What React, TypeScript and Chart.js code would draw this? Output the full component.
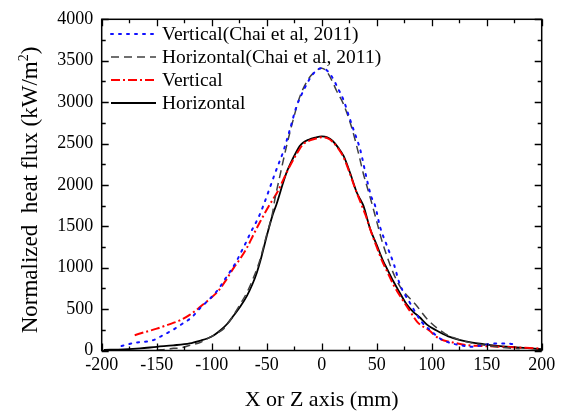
import React, { useEffect, useRef } from "react";
import { Chart, registerables } from "chart.js";

Chart.register(...registerables);

// ---- Data ----
const xTicks = [-200, -150, -100, -50, 0, 50, 100, 150, 200];
const yTicks = [0, 500, 1000, 1500, 2000, 2500, 3000, 3500, 4000];

const legendLabels = [
  "Vertical(Chai et al, 2011)",
  "Horizontal(Chai et al, 2011)",
  "Vertical",
  "Horizontal",
];

const xTitle = "X or Z axis (mm)";
const yTitleMain = "Normalized  heat flux (kW/m";
const yTitleSup = "2";
const yTitleEnd = ")";

// Vertical (Chai et al, 2011) - blue dotted
const vChaiX = [-182, -170, -153, -145, -136, -127, -118, -110, -102, -94, -88, -82, -77, -73, -69, -65, -60, -56, -53, -47, -43, -39, -35, -29, -23, -18, -15, -10, -5, 0, 5, 10, 15, 20, 25, 29, 35, 41, 45, 48.5, 53, 59, 65.7, 71, 80, 91, 100, 107.5, 117, 126, 135, 145, 153, 159, 168, 178];
const vChaiY = [55, 93, 125, 180, 244, 320, 402, 520, 620, 740, 860, 978, 1090, 1196, 1300, 1414, 1540, 1652, 1752, 1970, 2120, 2260, 2400, 2664, 2943, 3100, 3181, 3300, 3380, 3410, 3380, 3290, 3160, 3020, 2820, 2664, 2426, 2069, 1860, 1752, 1494, 1276, 1038, 800, 581, 343, 230, 145, 90, 65, 45, 60, 80, 86, 86, 65];

// Horizontal (Chai et al, 2011) - gray dashed
const hChaiX = [-150, -140, -135, -129, -119, -110, -101, -95, -89, -84, -80, -74, -68, -62, -56, -50, -45, -42.5, -38, -32, -26, -20, -12, -6, 0, 4.5, 10, 13.4, 19.6, 27, 33.4, 38, 41, 45.5, 50, 54.5, 62, 68, 74, 85, 97, 112, 125, 138, 150, 159, 170, 180];
const hChaiY = [5, 15, 26, 30, 65, 100, 164, 210, 264, 350, 430, 560, 700, 880, 1100, 1400, 1640, 1831, 2109, 2466, 2783, 3062, 3280, 3370, 3410, 3370, 3240, 3140, 2982, 2705, 2385, 2129, 1990, 1780, 1560, 1336, 1040, 850, 720, 562, 363, 205, 130, 86, 60, 45, 30, 20];

// Vertical (simulation) - red dash-dot
const vSimX = [-170, -160, -150, -140, -129, -120, -111, -102, -94, -87, -80, -74, -68, -62, -56, -50, -47, -40, -35, -30, -23, -17, -10, -5, 0, 5, 10, 15, 20, 25, 30, 35, 40, 45, 50, 55, 60, 65, 74, 80, 87, 97.5, 106.7, 120, 132, 145, 162, 180, 195, 200];
const vSimY = [185, 225, 264, 310, 363, 430, 521, 620, 720, 850, 998, 1110, 1240, 1400, 1554, 1700, 1770, 1920, 2060, 2200, 2370, 2490, 2540, 2560, 2575, 2565, 2520, 2440, 2330, 2160, 1970, 1800, 1630, 1430, 1250, 1080, 940, 800, 601, 480, 343, 244, 145, 95, 65, 55, 45, 35, 26, 20];

// Horizontal (simulation) - black solid
const hSimX = [-198, -180, -165, -150, -135, -120, -110, -104, -98, -92, -86, -80, -74, -68, -63, -59, -55, -50, -45, -41, -35, -32, -28, -23, -20, -17, -12, -6, 0, 5, 10, 15, 20, 25.7, 31.8, 34.8, 37.8, 43.9, 50, 56, 59, 65, 70, 77, 83, 89, 96, 104, 115, 126, 137, 147, 160, 177, 190, 200];
const hSimY = [8, 14, 25, 45, 62, 86, 120, 145, 185, 244, 320, 422, 530, 660, 800, 940, 1120, 1380, 1620, 1770, 2030, 2149, 2270, 2400, 2470, 2510, 2545, 2570, 2585, 2575, 2530, 2450, 2347, 2149, 1911, 1831, 1752, 1474, 1276, 1077, 998, 839, 720, 562, 470, 402, 310, 244, 170, 125, 95, 77, 55, 38, 25, 15];

const SERIF = "'Liberation Serif', 'Times New Roman', serif";

const toPts = (xs: number[], ys: number[]) => xs.map((x, i) => ({ x, y: ys[i] }));

const seriesStyles = [
  { color: "#1010ff", dash: [2, 6], width: 2, cap: "round" as CanvasLineCap },
  { color: "#404040", dash: [8, 5], width: 1.5, cap: "butt" as CanvasLineCap },
  { color: "#ff0000", dash: [9, 3, 2, 3], width: 2, cap: "butt" as CanvasLineCap },
  { color: "#000000", dash: [], width: 1.8, cap: "butt" as CanvasLineCap },
];

const framePlugin = {
  id: "frameTicks",
  afterDraw(chart: any) {
    const { ctx, chartArea, scales } = chart;
    const { left, right, top, bottom } = chartArea;
    const xs = scales.x;
    const ys = scales.y;
    ctx.save();
    ctx.strokeStyle = "#000";
    ctx.lineWidth = 1.5;
    ctx.setLineDash([]);
    ctx.strokeRect(left, top, right - left, bottom - top);
    ctx.lineWidth = 1.3;
    for (let v = -200; v <= 200; v += 25) {
      const px = Math.round(xs.getPixelForValue(v)) + 0.5;
      const len = v % 50 === 0 ? 7 : 4;
      ctx.beginPath();
      ctx.moveTo(px, bottom);
      ctx.lineTo(px, bottom - len);
      ctx.moveTo(px, top);
      ctx.lineTo(px, top + len);
      ctx.stroke();
    }
    for (let v = 0; v <= 4000; v += 250) {
      const py = Math.round(ys.getPixelForValue(v)) + 0.5;
      const len = v % 500 === 0 ? 7 : 4;
      ctx.beginPath();
      ctx.moveTo(left, py);
      ctx.lineTo(left + len, py);
      ctx.moveTo(right, py);
      ctx.lineTo(right - len, py);
      ctx.stroke();
    }
    // legend
    const rowY = [34, 57, 80, 103];
    ctx.font = `19.5px ${SERIF}`;
    ctx.textBaseline = "middle";
    ctx.textAlign = "left";
    ctx.fillStyle = "#000";
    legendLabels.forEach((lab, i) => {
      const s = seriesStyles[i];
      ctx.strokeStyle = s.color;
      ctx.lineWidth = s.width;
      ctx.lineCap = s.cap;
      ctx.setLineDash(s.dash);
      ctx.beginPath();
      ctx.moveTo(111, rowY[i]);
      ctx.lineTo(156, rowY[i]);
      ctx.stroke();
      ctx.setLineDash([]);
      ctx.fillText(lab, 162, rowY[i] + 1);
    });
    // y-axis title (rotated, with superscript)
    ctx.save();
    ctx.translate(29, 190);
    ctx.rotate(-Math.PI / 2);
    const mainFont = `23px ${SERIF}`;
    const supFont = `14px ${SERIF}`;
    ctx.font = mainFont;
    const w1 = ctx.measureText(yTitleMain).width;
    const w3 = ctx.measureText(yTitleEnd).width;
    ctx.font = supFont;
    const w2 = ctx.measureText(yTitleSup).width;
    const total = w1 + w2 + w3;
    let x0 = -total / 2;
    ctx.textBaseline = "alphabetic";
    ctx.font = mainFont;
    ctx.fillText(yTitleMain, x0, 8);
    x0 += w1;
    ctx.font = supFont;
    ctx.fillText(yTitleSup, x0, -1);
    x0 += w2;
    ctx.font = mainFont;
    ctx.fillText(yTitleEnd, x0, 8);
    ctx.restore();
    ctx.restore();
  },
};

export default function App() {
  const ref = useRef<HTMLCanvasElement | null>(null);
  useEffect(() => {
    document.body.style.margin = "0";
    const canvas = ref.current;
    if (!canvas) return;
    const series = [
      toPts(vChaiX, vChaiY),
      toPts(hChaiX, hChaiY),
      toPts(vSimX, vSimY),
      toPts(hSimX, hSimY),
    ];
    const chart = new Chart(canvas, {
      type: "line",
      data: {
        datasets: series.map((d, i) => ({
          label: legendLabels[i],
          data: d,
          borderColor: seriesStyles[i].color,
          borderWidth: seriesStyles[i].width,
          borderDash: seriesStyles[i].dash,
          borderCapStyle: seriesStyles[i].cap,
          pointRadius: 0,
          fill: false,
          cubicInterpolationMode: "monotone" as const,
        })),
      },
      options: {
        responsive: false,
        animation: false,
        devicePixelRatio: 1,
        layout: { padding: { left: 0, top: 14.5, right: 19.3, bottom: 0 } },
        plugins: { legend: { display: false }, tooltip: { enabled: false } },
        scales: {
          x: {
            type: "linear",
            min: -200,
            max: 200,
            afterBuildTicks: (s: any) => {
              s.ticks = xTicks.map((v) => ({ value: v }));
            },
            afterFit: (s: any) => {
              s.height = 65.5;
            },
            grid: { display: false, drawTicks: false },
            border: { display: false },
            ticks: {
              font: { family: SERIF, size: 18 },
              color: "#000",
              padding: 4,
              maxRotation: 0,
              autoSkip: false,
              callback: (v: any) => String(v),
            },
            title: {
              display: true,
              text: xTitle,
              font: { family: SERIF, size: 22 },
              color: "#000",
              padding: { top: 0, bottom: 3 },
            },
          },
          y: {
            type: "linear",
            min: 0,
            max: 4000,
            afterBuildTicks: (s: any) => {
              s.ticks = yTicks.map((v) => ({ value: v }));
            },
            afterFit: (s: any) => {
              s.width = 101.7;
            },
            grid: { display: false, drawTicks: false },
            border: { display: false },
            ticks: {
              font: { family: SERIF, size: 18 },
              color: "#000",
              padding: 8.5,
              autoSkip: false,
              callback: (v: any) => String(v),
            },
          },
        },
      },
      plugins: [framePlugin],
    });
    return () => chart.destroy();
  }, []);
  return (
    <div style={{ position: "fixed", left: 0, top: 0, width: 561, height: 416, background: "#fff" }}>
      <canvas ref={ref} width={561} height={416} style={{ display: "block", width: 561, height: 416 }} />
    </div>
  );
}
